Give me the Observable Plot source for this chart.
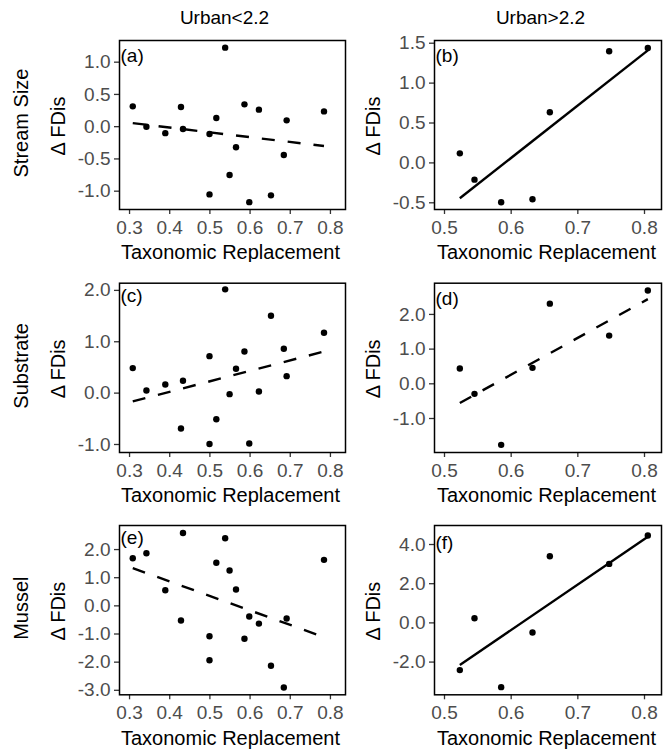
<!DOCTYPE html>
<html>
<head>
<meta charset="utf-8">
<script src="https://cdn.jsdelivr.net/npm/d3@7"></script>
<script src="https://cdn.jsdelivr.net/npm/@observablehq/plot@0.6"></script>
<style>
  body { margin: 0; background: #fff; }
  #chart { position: relative; width: 665px; height: 751px; overflow: hidden; background: #fff; }
  #chart > svg { position: absolute; }
</style>
</head>
<body>
<div id="chart"></div>
<script>
// ---- Data ----
const replacementLow = [0.308, 0.342, 0.389, 0.428, 0.433, 0.499, 0.499, 0.516, 0.538, 0.549, 0.565, 0.586, 0.598, 0.622, 0.652, 0.684, 0.691, 0.784];
const streamLow      = [0.315, 0.0, -0.10, 0.305, -0.036, -0.113, -1.05, 0.135, 1.225, -0.75, -0.32, 0.346, -1.17, 0.264, -1.065, -0.44, 0.098, 0.237];
const substrateLow   = [0.487, 0.052, 0.169, -0.688, 0.24, 0.72, -0.99, -0.51, 2.02, -0.02, 0.474, 0.81, -0.98, 0.032, 1.506, 0.864, 0.33, 1.175];
const musselLow      = [1.69, 1.87, 0.557, -0.52, 2.59, -1.08, -1.93, 1.53, 2.40, 1.256, 0.58, -1.17, -0.38, -0.63, -2.13, -2.90, -0.45, 1.635];

const replacementHigh = [0.523, 0.545, 0.585, 0.632, 0.658, 0.747, 0.805];
const streamHigh      = [0.12, -0.21, -0.494, -0.456, 0.634, 1.40, 1.44];
const substrateHigh   = [0.44, -0.29, -1.76, 0.46, 2.31, 1.39, 2.69];
const musselHigh      = [-2.41, 0.24, -3.28, -0.49, 3.40, 3.01, 4.46];

// fitted trend lines (end points)
const trendXLow = [0.308, 0.784];
const trendStreamLow = [0.055, -0.30];
const trendSubstrateLow = [-0.162, 0.81];
const trendMusselLow = [1.339, -1.11];
const trendXHigh = [0.523, 0.805];
const trendStreamHigh = [-0.443, 1.41];
const trendSubstrateHigh = [-0.553, 2.44];
const trendMusselHigh = [-2.15, 4.40];

const columnHeaders = ["Urban<2.2", "Urban>2.2"];
const rowNames = ["Stream Size", "Substrate", "Mussel"];
const panelLetters = ["(a)", "(b)", "(c)", "(d)", "(e)", "(f)"];
const xTicksLow = [0.3, 0.4, 0.5, 0.6, 0.7, 0.8];
const xTicksHigh = [0.5, 0.6, 0.7, 0.8];
const xTitle = "Taxonomic Replacement";
const yTitle = "\u0394 FDis";

// ---- Layout ----
const FONT = "'Liberation Sans', Arial, Helvetica, sans-serif";
const cols = [
  {left: 0, width: 350, ml: 119, mr: 5, xDomain: [0.275, 0.8375], xTicks: xTicksLow, headerDx: -8, xTitleDx: -2},
  {left: 350, width: 315, ml: 84, mr: 4, xDomain: [0.485, 0.8255], xTicks: xTicksHigh, headerDx: -7.5, xTitleDx: -1.5}
];
const rows = [
  {top: 0, height: 262, mt: 40, mb: 53},
  {top: 262, height: 245, mt: 20.7, mb: 55},
  {top: 507, height: 244, mt: 18, mb: 56.7}
];
const panels = [
  {row: 0, col: 0, x: replacementLow, y: streamLow, tx: trendXLow, ty: trendStreamLow, dashed: true, yDomain: [-1.284, 1.336], yTicks: [-1, -0.5, 0, 0.5, 1], labelDy: 8},
  {row: 0, col: 1, x: replacementHigh, y: streamHigh, tx: trendXHigh, ty: trendStreamHigh, dashed: false, yDomain: [-0.584, 1.534], yTicks: [-0.5, 0, 0.5, 1, 1.5], labelDy: 8},
  {row: 1, col: 0, x: replacementLow, y: substrateLow, tx: trendXLow, ty: trendSubstrateLow, dashed: true, yDomain: [-1.156, 2.14], yTicks: [-1, 0, 1, 2], labelDy: 5},
  {row: 1, col: 1, x: replacementHigh, y: substrateHigh, tx: trendXHigh, ty: trendSubstrateHigh, dashed: true, yDomain: [-1.98, 2.90], yTicks: [-1, 0, 1, 2], labelDy: 8.5},
  {row: 2, col: 0, x: replacementLow, y: musselLow, tx: trendXLow, ty: trendMusselLow, dashed: true, yDomain: [-3.16, 2.855], yTicks: [-3, -2, -1, 0, 1, 2], labelDy: 4.5},
  {row: 2, col: 1, x: replacementHigh, y: musselHigh, tx: trendXHigh, ty: trendMusselHigh, dashed: false, yDomain: [-3.67, 4.97], yTicks: [-2, 0, 2, 4], labelDy: 10}
];

const fmt = d => d.toFixed(1);
const chart = document.getElementById("chart");

panels.forEach((p, i) => {
  const c = cols[p.col], r = rows[p.row];
  const pts = p.x.map((x, j) => ({x, y: p.y[j]}));
  const trend = p.tx.map((x, j) => ({x, y: p.ty[j]}));
  const marks = [
    Plot.axisX({ticks: c.xTicks, tickFormat: fmt, tickSize: 5, tickPadding: 6, fontSize: 19, fill: "#4d4d4d", stroke: "#333", strokeWidth: 1.3, label: null}),
    Plot.axisY({ticks: p.yTicks, tickFormat: fmt, tickSize: 5, tickPadding: 4, fontSize: 19, fill: "#4d4d4d", stroke: "#333", strokeWidth: 1.3, label: null}),
    Plot.line(trend, {x: "x", y: "y", stroke: "black", strokeWidth: 2.4, strokeDasharray: p.dashed ? "13,13" : null, strokeLinecap: "butt"}),
    Plot.dot(pts, {x: "x", y: "y", r: 3.2, fill: "black"}),
    Plot.frame({stroke: "black", strokeWidth: 1.5}),
    Plot.text([panelLetters[i]], {text: d => d, frameAnchor: "top-left", textAnchor: "start", lineAnchor: "top", dx: 1, dy: p.labelDy, fontSize: 19, fill: "black"}),
    Plot.text([xTitle], {text: d => d, frameAnchor: "bottom", lineAnchor: "top", dx: c.xTitleDx, dy: 35.5, fontSize: 20, fill: "black"}),
    Plot.text([yTitle], {text: d => d, frameAnchor: "left", rotate: -90, textAnchor: "middle", lineAnchor: "top", dx: -69, dy: 1, fontSize: 20, fill: "black"})
  ];
  if (p.col === 0) {
    marks.push(Plot.text([rowNames[p.row]], {text: d => d, frameAnchor: "left", rotate: -90, textAnchor: "middle", lineAnchor: "top", dx: -106, dy: -2, fontSize: 20, fill: "black"}));
  }
  if (p.row === 0) {
    marks.push(Plot.text([columnHeaders[p.col]], {text: d => d, frameAnchor: "top", lineAnchor: "top", dx: c.headerDx, dy: -30, fontSize: 19, fill: "black"}));
  }
  const svg = Plot.plot({
    width: c.width,
    height: r.height,
    marginLeft: c.ml,
    marginRight: c.mr,
    marginTop: r.mt,
    marginBottom: r.mb,
    x: {domain: c.xDomain},
    y: {domain: p.yDomain},
    style: {fontFamily: FONT, background: "transparent", color: "black"},
    marks
  });
  svg.style.left = c.left + "px";
  svg.style.top = r.top + "px";
  chart.appendChild(svg);
});
</script>
</body>
</html>
